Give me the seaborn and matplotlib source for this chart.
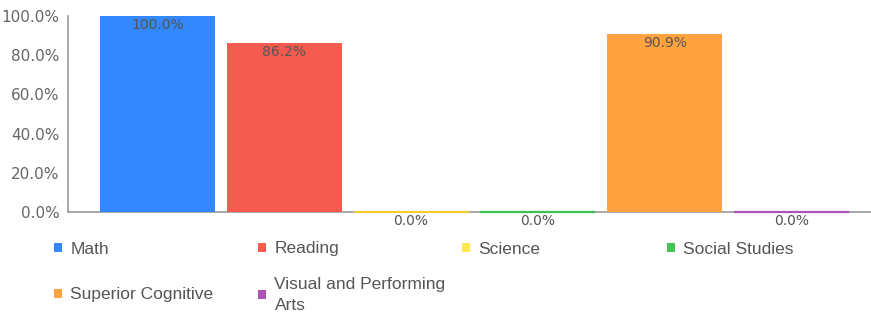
import matplotlib
matplotlib.use("Agg")
import matplotlib.pyplot as plt
import seaborn as sns
import pandas as pd
from matplotlib.patches import Patch
from matplotlib.ticker import FuncFormatter

categories = ["Math", "Reading", "Science", "Social Studies", "Superior Cognitive", "Visual and Performing Arts"]
values = [100.0, 86.2, 0.0, 0.0, 90.9, 0.0]
colors = ["#3388FF", "#F55B4F", "#F2CE2F", "#3DBE55", "#FFA23F", "#A556B4"]
legend_colors = ["#3388FF", "#F55B4F", "#FFE74C", "#44C553", "#FFA23F", "#A856B2"]
legend_labels = ["Math", "Reading", "Science", "Social Studies", "Superior Cognitive", "Visual and Performing\nArts"]
y_ticks = [0, 20, 40, 60, 80, 100]

sns.set_theme(style="white")
plt.rcParams['font.family'] = ['DejaVu Sans']

df = pd.DataFrame({"cat": categories, "val": values})

W, H = 871, 316
fig = plt.figure(figsize=(W / 100, H / 100), dpi=100)
ax = fig.add_axes([68 / W, 1 - 212 / H, 1 - 68 / W, 196 / H])

sns.barplot(data=df, x="cat", y="val", hue="cat", palette=colors, legend=False,
            width=0.907, ax=ax, saturation=1)
for p, c in zip(ax.patches, colors):
    p.set_zorder(3)
    p.set_clip_on(False)
    if p.get_height() == 0:
        p.set_edgecolor(c)
        p.set_linewidth(1.6)
    else:
        p.set_linewidth(0)

ax.set_xlim(-0.705, 5.626)
ax.set_ylim(0, 100)
ax.set_yticks(y_ticks)
ax.yaxis.set_major_formatter(FuncFormatter(lambda v, _: f"{v:.1f}%"))
ax.set_xticks([])
ax.set_xlabel("")
ax.set_ylabel("")
ax.tick_params(axis='y', labelsize=11, colors="#666666", length=0, pad=6)
for s in ["top", "right"]:
    ax.spines[s].set_visible(False)
for s in ["left", "bottom"]:
    ax.spines[s].set_color("#9a9a9a")
    ax.spines[s].set_linewidth(1.2)
    ax.spines[s].set_zorder(1)

for i, v in enumerate(values):
    ax.annotate(f"{v:.1f}%", xy=(i, v), xytext=(0, -1.5), textcoords="offset points",
                ha="center", va="top", fontsize=10, color="#555555", annotation_clip=False,
                zorder=4)

# legend: one entry per grid cell (4 columns, 2 rows)
col_x = [54, 258, 462, 667]
row_y = [249, 295]
for i, (lab, c) in enumerate(zip(legend_labels, legend_colors)):
    r, k = divmod(i, 4)
    leg = fig.legend([Patch(facecolor=c, edgecolor='none')], [lab], loc="center left",
                     bbox_to_anchor=(col_x[k] / W, 1 - row_y[r] / H),
                     frameon=False, prop={'family': 'Liberation Sans', 'size': 12.5},
                     labelcolor="#555555", handlelength=0.45, handleheight=0.45,
                     handletextpad=0.5, borderpad=0, borderaxespad=0)
    for t in leg.get_texts():
        t.set_linespacing(1.55)

fig.savefig("out.png", dpi=100)
